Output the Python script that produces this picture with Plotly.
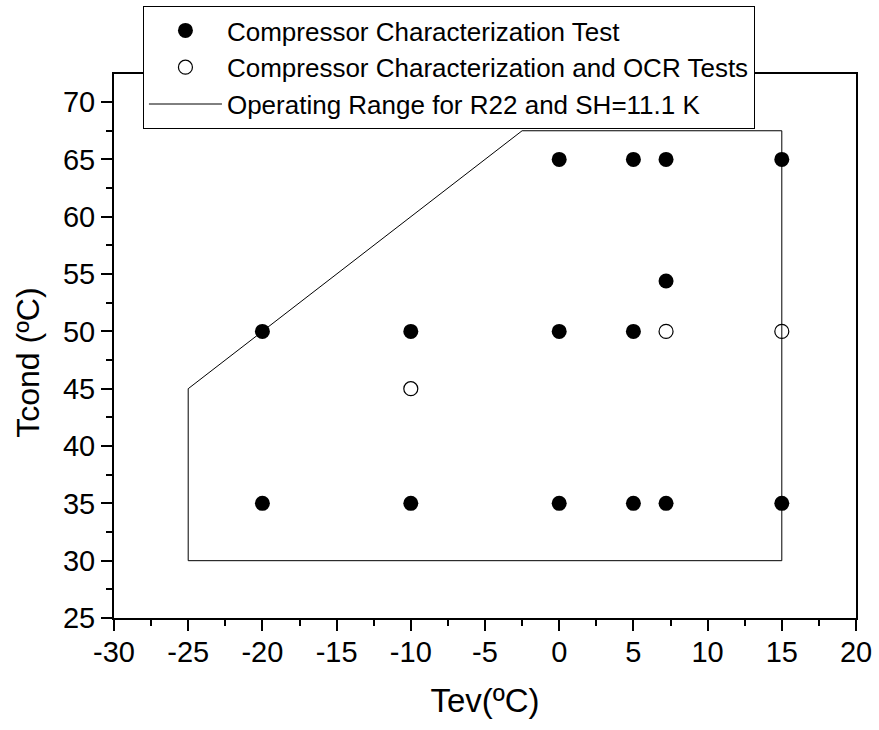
import plotly.graph_objects as go

# Data
filled_x = [-20, -20, -10, -10, 0, 0, 0, 5, 5, 5, 7.2, 7.2, 7.2, 15, 15]
filled_y = [50, 35, 50, 35, 65, 50, 35, 65, 50, 35, 65, 54.4, 35, 65, 35]
open_x = [-10, 7.2, 15]
open_y = [45, 50, 50]
range_x = [-25, 15, 15, -2.5, -25, -25]
range_y = [30, 30, 67.5, 67.5, 45, 30]

x_tickvals = [-30, -25, -20, -15, -10, -5, 0, 5, 10, 15, 20]
x_ticktext = ["-30", "-25", "-20", "-15", "-10", "-5", "0", "5", "10", "15", "20"]
y_tickvals = [25, 30, 35, 40, 45, 50, 55, 60, 65, 70]
y_ticktext = ["25", "30", "35", "40", "45", "50", "55", "60", "65", "70"]

FONT = "Liberation Sans, Arial, sans-serif"

fig = go.Figure()
fig.add_trace(go.Scatter(x=filled_x, y=filled_y, mode="markers",
                         name="Compressor Characterization Test",
                         marker=dict(symbol="circle", size=15, color="black")))
fig.add_trace(go.Scatter(x=open_x, y=open_y, mode="markers",
                         name="Compressor Characterization and OCR Tests",
                         marker=dict(symbol="circle-open", size=14, color="black",
                                     line=dict(width=1.2, color="black"))))
fig.add_trace(go.Scatter(x=range_x, y=range_y, mode="lines",
                         name="Operating Range for R22 and SH=11.1 K",
                         line=dict(color="black", width=1)))

axis_common = dict(
    showline=True, linecolor="black", linewidth=2, mirror=True,
    ticks="outside", ticklen=11, tickwidth=2, tickcolor="black",
    showgrid=False, zeroline=False,
    tickfont=dict(family=FONT, size=29, color="black"),
)

fig.update_xaxes(range=[-30, 20], tickvals=x_tickvals, ticktext=x_ticktext,
                 ticklabelstandoff=-4,
                 minor=dict(dtick=2.5, tick0=-30, ticks="outside", ticklen=6, tickwidth=2, tickcolor="black"),
                 title=dict(text="Tev(ºC)", font=dict(family=FONT, size=33, color="black"), standoff=22),
                 **axis_common)
fig.update_yaxes(range=[25, 72.45], tickvals=y_tickvals, ticktext=y_ticktext,
                 minor=dict(dtick=2.5, tick0=25, ticks="outside", ticklen=6, tickwidth=2, tickcolor="black"),
                 **axis_common)

fig.add_annotation(text="Tcond (ºC)", textangle=-90, xref="paper", yref="paper",
                   x=-0.116, y=0.469, xanchor="center", yanchor="middle", showarrow=False,
                   font=dict(family=FONT, size=32, color="black"))

fig.update_layout(
    width=879, height=730,
    margin=dict(l=114, r=23, t=74, b=112, autoexpand=False),
    paper_bgcolor="white", plot_bgcolor="white",
    showlegend=True,
    legend=dict(x=0.039, y=1.125, xanchor="left", yanchor="top",
                bgcolor="white", bordercolor="black", borderwidth=1,
                font=dict(family=FONT, size=26, color="black"),
                itemwidth=73, tracegroupgap=0),
)

fig.write_html("out.html")
